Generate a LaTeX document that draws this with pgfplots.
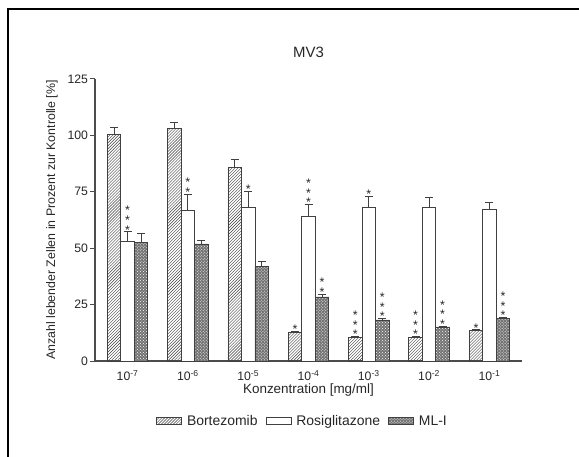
\documentclass[border=0pt]{standalone}
\usepackage{fontspec}
\setmainfont{Liberation Sans}
\usepackage{pgfplots}
\pgfplotsset{compat=1.18}
\usepackage{pgfplotstable}
\usetikzlibrary{patterns}

\pgfplotstableread{
x y e
0 100.3 3.3
1 103.1 2.7
2 85.7 3.5
3 12.7 0.4
4 10.5 0.4
5 10.5 0.4
6 13.4 0.4
}\bort
\pgfplotstableread{
x y e
0 52.9 4.4
1 66.6 7.4
2 68.1 7.1
3 64.0 5.3
4 68.0 5.1
5 68.0 4.5
6 67.2 3.0
}\rosi
\pgfplotstableread{
x y e
0 52.5 4.1
1 51.9 1.7
2 41.8 2.2
3 28.4 1.3
4 18.2 0.6
5 15.1 0.4
6 18.8 0.4
}\mli
% significance stars: x position, top of error bar, number of stars
\pgfplotstableread{
x y n
2.776 13.1 1
3.776 10.9 3
4.776 10.9 3
5.776 13.8 1
}\bstars
\pgfplotstableread{
x y n
0 57.3 3
1 74.0 2
2 75.2 1
3 69.3 3
4 73.1 1
}\rstars
\pgfplotstableread{
x y n
3.224 29.7 2
4.224 18.8 3
5.224 15.5 3
6.224 19.2 3
}\mstars

\newcommand\stars[1]{\ifcase#1\or *\or *\\{}*\or *\\{}*\\{}*\fi}

\begin{document}
\begin{tikzpicture}
\path[use as bounding box] (0,0) rectangle (579bp,457bp);
\draw[line width=2bp] (7.5bp,0) -- (7.5bp,447.5bp) -- (579bp,447.5bp);
\node[anchor=base, font=\fontsize{15}{18}\selectfont, text=black!85] at (308.5bp,399bp) {MV3};
\begin{axis}[
  at={(95bp,96bp)}, anchor=south west,
  scale only axis, width=427bp, height=282bp,
  xmin=-0.54, xmax=6.54, ymin=0, ymax=125,
  axis x line*=bottom, axis y line*=left,
  axis line style={black!70, line width=1.2bp},
  xtick={0,...,6},
  xticklabels={10\textsuperscript{-7},10\textsuperscript{-6},10\textsuperscript{-5},10\textsuperscript{-4},10\textsuperscript{-3},10\textsuperscript{-2},10\textsuperscript{-1}},
  major x tick style={draw=none},
  ytick={0,25,...,125},
  tick align=outside, major tick length=4.5bp,
  major y tick style={black!70, line width=1bp},
  tick label style={font=\fontsize{12.3}{14}\selectfont, text=black!85},
  xticklabel style={yshift=-1.5bp},
  yticklabel style={xshift=1bp},
  /pgf/number format/assume math mode=true,
  xlabel={Konzentration [mg/ml]},
  ylabel={Anzahl lebender Zellen in Prozent zur Kontrolle [\%]},
  every axis x label/.style={at={(axis description cs:0.5,-0.1135)}, anchor=base, font=\fontsize{13.5}{15}\selectfont, text=black!85},
  every axis y label/.style={at={(axis description cs:-0.1007,0.5)}, rotate=90, anchor=center, font=\fontsize{12.4}{15}\selectfont, text=black!85},
  legend columns=3,
  legend style={at={(0.486,-0.213)}, anchor=center, draw=none, font=\fontsize{14}{16}\selectfont, text=black!85,
    /tikz/every odd column/.append style={column sep=3bp},
    /tikz/every even column/.append style={column sep=6bp}},
  legend cell align=left,
  mybar/.style={ybar, bar width=0.224, bar shift=0, draw=black!75, line width=0.8bp,
    error bars/y dir=plus, error bars/y explicit,
    error bars/error bar style={black!75, line width=0.8bp},
    error bars/error mark options={rotate=90, mark size=4bp, black!75, line width=0.8bp}},
  myleg/.style={legend image code/.code={\draw[##1] (0bp,-3.5bp) rectangle (25bp,3.5bp);}},
  starplot/.style={draw=none, mark=none, forget plot, point meta=explicit symbolic,
    nodes near coords={\stars{\pgfplotspointmeta}},
    every node near coord/.style={anchor=south, inner sep=0pt, yshift=-2.5bp, align=center,
      font=\fontsize{12.5}{8.3}\selectfont, text=black!85}},
]
\addplot[mybar, pattern=north east lines, pattern color=black!75, myleg]
  table[x expr=\thisrow{x}-0.224, y=y, y error=e] {\bort};
\addlegendentry{Bortezomib}
\addplot[mybar, fill=white, myleg]
  table[x=x, y=y, y error=e] {\rosi};
\addlegendentry{Rosiglitazone}
\addplot[mybar, fill=black!55, postaction={pattern=crosshatch dots, pattern color=white}, myleg]
  table[x expr=\thisrow{x}+0.224, y=y, y error=e] {\mli};
\addlegendentry{ML-I}
\addplot[starplot] table[x=x, y=y, meta=n] {\bstars};
\addplot[starplot] table[x=x, y=y, meta=n] {\rstars};
\addplot[starplot] table[x=x, y=y, meta=n] {\mstars};
\end{axis}
\end{tikzpicture}
\end{document}
